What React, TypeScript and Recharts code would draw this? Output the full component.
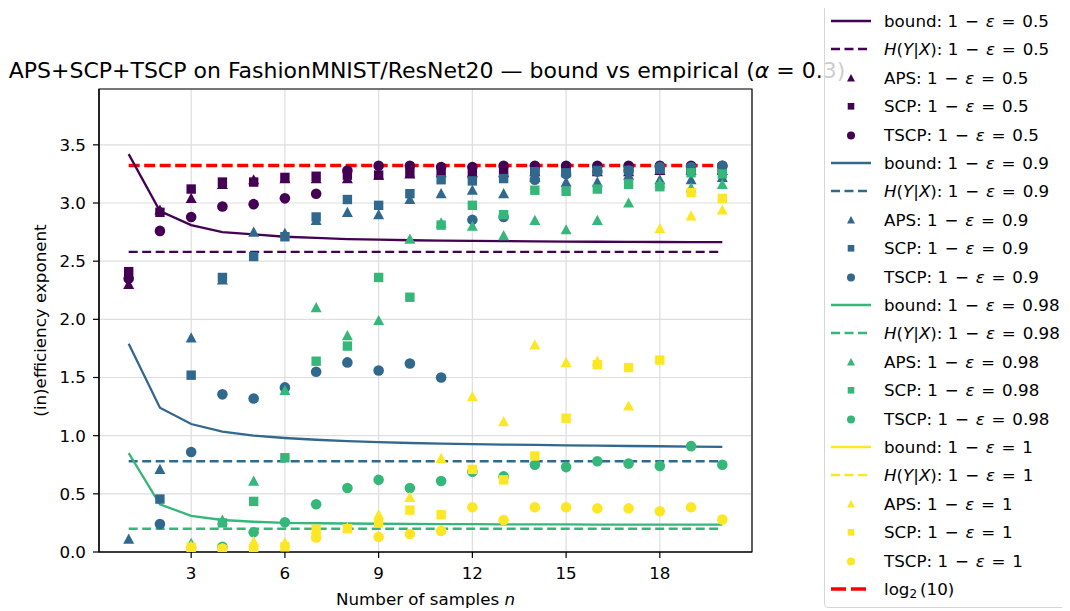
import React from 'react';
import { ComposedChart, Line, Scatter, XAxis, YAxis, CartesianGrid, ReferenceArea } from 'recharts';

const nValues = [1, 2, 3, 4, 5, 6, 7, 8, 9, 10, 11, 12, 13, 14, 15, 16, 17, 18, 19, 20];
const xTicks = [3, 6, 9, 12, 15, 18];
const yTicks = [0, 0.5, 1, 1.5, 2, 2.5, 3, 3.5];
const xDomain = [0.05, 20.95];
const yDomain = [0, 3.98];

const levelLabels = ['0.5', '0.9', '0.98', '1'];
const levelColors = ['#440154', '#31688e', '#35b779', '#fde725'];

// 1 - eps = 0.5
const bound05 = [3.42, 2.93, 2.81, 2.75, 2.73, 2.71, 2.70, 2.69, 2.685, 2.68, 2.677, 2.674, 2.672, 2.67, 2.668, 2.667, 2.666, 2.665, 2.664, 2.663];
const hyx05 = 2.58;
const aps05 = [2.30, 2.94, 3.04, 3.16, 3.20, 3.21, 3.21, 3.21, 3.24, 3.25, 3.26, 3.26, 3.26, 3.27, 3.27, 3.27, 3.27, 3.28, 3.28, 3.28];
const scp05 = [2.41, 2.92, 3.12, 3.18, 3.18, 3.22, 3.23, 3.24, 3.24, 3.26, 3.27, 3.25, 3.27, 3.28, 3.28, 3.28, 3.29, 3.29, 3.29, 3.29];
const tscp05 = [2.35, 2.76, 2.88, 2.97, 2.99, 3.04, 3.08, 3.28, 3.32, 3.32, 3.31, 3.31, 3.32, 3.32, 3.32, 3.32, 3.32, 3.32, 3.32, 3.32];

// 1 - eps = 0.9
const bound09 = [1.79, 1.24, 1.10, 1.035, 1.00, 0.98, 0.965, 0.953, 0.944, 0.937, 0.932, 0.927, 0.923, 0.92, 0.917, 0.914, 0.911, 0.909, 0.906, 0.903];
const hyx09 = 0.78;
const aps09 = [0.11, 0.71, 1.84, 2.34, 2.75, 2.74, 2.85, 2.92, 2.90, 3.03, 3.08, 3.11, 3.08, 3.22, 3.18, 3.18, 3.24, 3.20, 3.20, 3.22];
const scp09 = [null, 0.455, 1.52, 2.36, 2.54, 2.71, 2.88, 3.03, 2.98, 3.08, 3.20, 3.19, 3.21, 3.27, 3.26, 3.28, 3.28, 3.29, 3.29, 3.30];
const tscp09 = [null, 0.24, 0.86, 1.355, 1.32, 1.415, 1.55, 1.63, 1.56, 1.62, 1.50, 2.855, 2.88, 3.20, 3.25, 3.27, 3.28, 3.31, 3.31, 3.32];

// 1 - eps = 0.98
const bound098 = [0.85, 0.41, 0.31, 0.275, 0.26, 0.25, 0.247, 0.245, 0.243, 0.241, 0.24, 0.239, 0.238, 0.237, 0.237, 0.236, 0.236, 0.235, 0.235, 0.235];
const hyx098 = 0.20;
const aps098 = [null, null, 0.075, 0.275, 0.61, 1.39, 2.10, 1.86, 1.99, 2.69, 2.83, 2.80, 2.72, 2.85, 2.77, 2.85, 3.00, 3.17, 3.13, 3.16];
const scp098 = [null, null, null, 0.25, 0.435, 0.81, 1.64, 1.77, 2.36, 2.19, 2.81, 2.98, 2.90, 3.11, 3.10, 3.12, 3.16, 3.14, 3.26, 3.25];
const tscp098 = [null, null, null, 0.045, 0.17, 0.255, 0.41, 0.55, 0.62, 0.55, 0.61, 0.69, 0.65, 0.75, 0.73, 0.78, 0.76, 0.74, 0.91, 0.75];

// 1 - eps = 1
const aps1 = [null, null, 0.05, 0.03, 0.09, 0.08, 0.19, 0.21, 0.32, 0.47, 0.805, 1.335, 1.12, 1.78, 1.63, 1.64, 1.255, 2.78, 2.89, 2.94];
const scp1 = [null, null, 0.04, 0.02, 0.03, 0.045, 0.195, 0.20, 0.25, 0.36, 0.32, 0.71, 0.62, 0.825, 1.15, 1.61, 1.585, 1.65, 3.09, 3.04];
const tscp1 = [null, null, 0.03, 0.03, null, null, 0.125, null, 0.13, 0.155, 0.18, 0.385, 0.275, 0.385, 0.385, 0.375, 0.375, 0.35, 0.385, 0.28];

const log2Ten = 3.3219;

const FONT = 'DejaVu Sans';

type Pt = { n: number; y: number };
const toPts = (vals: (number | null)[]): Pt[] =>
  nValues.map((n, i) => ({ n, y: vals[i] as number })).filter((p) => p.y !== null && p.y !== undefined);
const constPts = (v: number): Pt[] => nValues.map((n) => ({ n, y: v }));

type Kind = 'tri' | 'sq' | 'circ';

const makeShape = (kind: Kind, color: string) => (props: any) => {
  const { cx, cy } = props;
  if (cx == null || cy == null || isNaN(cx) || isNaN(cy)) return <g />;
  if (kind === 'tri') {
    return (
      <polygon
        points={`${cx},${cy - 5.6} ${cx - 5.5},${cy + 4.6} ${cx + 5.5},${cy + 4.6}`}
        fill={color}
      />
    );
  }
  if (kind === 'sq') {
    return <rect x={cx - 4.7} y={cy - 4.7} width={9.4} height={9.4} fill={color} />;
  }
  return <circle cx={cx} cy={cy} r={5.3} fill={color} />;
};

const levels = [
  { label: levelLabels[0], color: levelColors[0], bound: bound05, hyx: hyx05, aps: aps05, scp: scp05, tscp: tscp05 },
  { label: levelLabels[1], color: levelColors[1], bound: bound09, hyx: hyx09, aps: aps09, scp: scp09, tscp: tscp09 },
  { label: levelLabels[2], color: levelColors[2], bound: bound098, hyx: hyx098, aps: aps098, scp: scp098, tscp: tscp098 },
  { label: levelLabels[3], color: levelColors[3], bound: null, hyx: null, aps: aps1, scp: scp1, tscp: tscp1 },
];

const Op = ({ c }: { c: string }) => <span style={{ margin: '0 1.5px' }}>{c}</span>;

const LegendHandle = ({ type, color }: { type: string; color: string }) => (
  <svg width={40} height={28} style={{ display: 'block' }}>
    {type === 'line' && <line x1={0} y1={14} x2={40} y2={14} stroke={color} strokeWidth={2.3} />}
    {type === 'dash' && <line x1={0} y1={14} x2={40} y2={14} stroke={color} strokeWidth={2.3} strokeDasharray="9 4.5" />}
    {type === 'red' && <line x1={0} y1={14} x2={40} y2={14} stroke={color} strokeWidth={3.6} strokeDasharray="15 5" />}
    {type === 'tri' && <polygon points="20,10 16,17.5 24,17.5" fill={color} />}
    {type === 'sq' && <rect x={16.7} y={11} width={6.6} height={6.6} fill={color} />}
    {type === 'circ' && <circle cx={20} cy={14.5} r={4} fill={color} />}
  </svg>
);

const legendRows: { type: string; color: string; text: React.ReactNode }[] = [];
levels.forEach((lv) => {
  const tail = (
    <>
      : 1 <Op c="−" /> <i>ε</i> <Op c="=" /> {lv.label}
    </>
  );
  legendRows.push({ type: 'line', color: lv.color, text: <>bound{tail}</> });
  legendRows.push({
    type: 'dash',
    color: lv.color,
    text: (
      <>
        <i>H</i>(<i>Y</i>|<i>X</i>){tail}
      </>
    ),
  });
  legendRows.push({ type: 'tri', color: lv.color, text: <>APS{tail}</> });
  legendRows.push({ type: 'sq', color: lv.color, text: <>SCP{tail}</> });
  legendRows.push({ type: 'circ', color: lv.color, text: <>TSCP{tail}</> });
});
legendRows.push({
  type: 'red',
  color: '#ff0000',
  text: (
    <>
      log<sub style={{ fontSize: 12, verticalAlign: -3 }}>2</sub>
      <span style={{ marginLeft: 3 }}>(10)</span>
    </>
  ),
});

export default function App() {
  const W = 1054;
  const H = 595;
  return (
    <div style={{ position: 'relative', width: W, height: 603, fontFamily: FONT }}>
      <ComposedChart width={W} height={H} margin={{ top: 81, right: 310, bottom: 21, left: 0 }}>
        <CartesianGrid stroke="#dedede" strokeWidth={1.2} />
        <XAxis
          type="number"
          dataKey="n"
          domain={xDomain}
          ticks={xTicks}
          allowDataOverflow
          height={30}
          tickSize={6}
          tickMargin={9}
          tick={{ fill: '#000', fontSize: 16.7, fontFamily: FONT }}
          tickLine={{ stroke: '#000', strokeWidth: 1.2 }}
          axisLine={{ stroke: '#000', strokeWidth: 1.2 }}
        />
        <YAxis
          type="number"
          domain={yDomain}
          ticks={yTicks}
          allowDataOverflow
          width={91}
          tickSize={6}
          tickMargin={7}
          tickFormatter={(v: number) => v.toFixed(1)}
          tick={{ fill: '#000', fontSize: 16.7, fontFamily: FONT }}
          tickLine={{ stroke: '#000', strokeWidth: 1.2 }}
          axisLine={{ stroke: '#000', strokeWidth: 1.2 }}
        />
        <ReferenceArea
          x1={xDomain[0]}
          x2={xDomain[1]}
          y1={yDomain[0]}
          y2={yDomain[1]}
          fill="none"
          stroke="#000"
          strokeWidth={1.2}
          ifOverflow="visible"
        />
        <Line
          data={constPts(log2Ten)}
          dataKey="y"
          type="linear"
          stroke="#ff0000"
          strokeWidth={3.6}
          strokeDasharray="11 4.5"
          dot={false}
          activeDot={false}
          isAnimationActive={false}
        />
        {levels.map((lv) => (
          <React.Fragment key={lv.label}>
            {lv.bound && (
              <Line
                data={toPts(lv.bound)}
                dataKey="y"
                type="linear"
                stroke={lv.color}
                strokeWidth={2.3}
                dot={false}
                activeDot={false}
                isAnimationActive={false}
              />
            )}
            {lv.hyx !== null && (
              <Line
                data={constPts(lv.hyx as number)}
                dataKey="y"
                type="linear"
                stroke={lv.color}
                strokeWidth={2.3}
                strokeDasharray="9 4.5"
                dot={false}
                activeDot={false}
                isAnimationActive={false}
              />
            )}
            <Scatter data={toPts(lv.aps)} dataKey="y" shape={makeShape('tri', lv.color)} isAnimationActive={false} />
            <Scatter data={toPts(lv.scp)} dataKey="y" shape={makeShape('sq', lv.color)} isAnimationActive={false} />
            <Scatter data={toPts(lv.tscp)} dataKey="y" shape={makeShape('circ', lv.color)} isAnimationActive={false} />
          </React.Fragment>
        ))}
      </ComposedChart>

      <svg
        width={W}
        height={603}
        style={{ position: 'absolute', left: 0, top: 0, pointerEvents: 'none' }}
      >
        <text x={419} y={70} textAnchor="middle" fontFamily={FONT} fontSize={22} fill="#000">
          APS+SCP+TSCP on FashionMNIST/ResNet20 — bound vs empirical (<tspan fontStyle="italic">α</tspan> = 0.3)
        </text>
        <text
          transform="translate(32,312.5) rotate(-90)"
          textAnchor="middle"
          dominantBaseline="central"
          fontFamily={FONT}
          fontSize={16.7}
          fill="#000"
        >
          (in)efficiency exponent
        </text>
        <text x={417.5} y={597} textAnchor="middle" fontFamily={FONT} fontSize={16.7} fill="#000">
          Number of samples <tspan fontStyle="italic">n</tspan>
        </text>
      </svg>

      <div
        style={{
          position: 'absolute',
          left: 816,
          top: -5,
          width: 244,
          height: 605,
          boxSizing: 'border-box',
          border: '1px solid #d6d6d6',
          borderRadius: 4,
          background: 'rgba(255,255,255,0.8)',
          fontFamily: FONT,
          fontSize: 16.7,
          color: '#000',
        }}
      >
        {legendRows.map((r, i) => (
          <div
            key={i}
            style={{
              position: 'absolute',
              left: 0,
              top: 17 + i * 28.4 - 14,
              height: 28,
              width: '100%',
              whiteSpace: 'nowrap',
            }}
          >
            <div style={{ position: 'absolute', left: 6, top: 0 }}>
              <LegendHandle type={r.type} color={r.color} />
            </div>
            <div style={{ position: 'absolute', left: 59, top: 0, lineHeight: '28px' }}>{r.text}</div>
          </div>
        ))}
      </div>
    </div>
  );
}
